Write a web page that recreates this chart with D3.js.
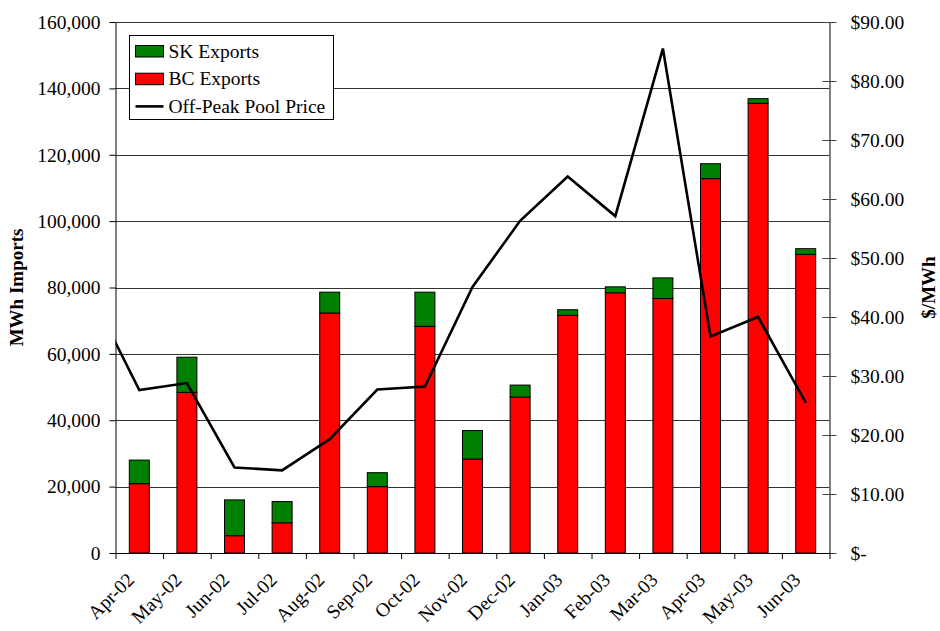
<!DOCTYPE html>
<html>
<head>
<meta charset="utf-8">
<script src="https://cdn.jsdelivr.net/npm/d3@7"></script>
<style>
  body { margin: 0; background: #fff; }
  svg { display: block; }
  text { font-family: "Liberation Serif", "Times New Roman", serif; fill: #000; }
</style>
</head>
<body>
<div id="chart"></div>
<script>
(function () {
  // values
  const months = ["Apr-02", "May-02", "Jun-02", "Jul-02", "Aug-02", "Sep-02", "Oct-02", "Nov-02",
                  "Dec-02", "Jan-03", "Feb-03", "Mar-03", "Apr-03", "May-03", "Jun-03"];
  const bcExports = [20900, 48400, 5200, 9100, 72300, 20000, 68300, 28300,
                     47000, 71600, 78400, 76700, 112800, 135500, 90000];
  const skExports = [7100, 10600, 10800, 6400, 6300, 4200, 10300, 8600,
                     3600, 1700, 1800, 6200, 4500, 1400, 1700];
  const poolPrice = [27.6, 28.8, 14.5, 14.0, 19.3, 27.7, 28.2, 45.1,
                     56.3, 63.8, 57.1, 85.5, 36.7, 40.0, 25.5];
  // the line enters from the left edge, so there is one month before Apr-02 (clipped)
  const leadPrice = 43.7;
  const leftTicks = [0, 20000, 40000, 60000, 80000, 100000, 120000, 140000, 160000];
  const rightTicks = [0, 10, 20, 30, 40, 50, 60, 70, 80, 90];

  const W = 940, H = 631;
  const plot = {left: 115.5, right: 829.5, top: 22, bottom: 553};
  const fontSize = 19.5;

  const svg = d3.select("#chart").append("svg")
    .attr("width", W)
    .attr("height", H);

  const x = d3.scaleBand()
    .domain(months)
    .range([plot.left, plot.right])
    .padding(0);

  // boundaries between months, for the tick marks
  const xi = d3.scaleLinear()
    .domain([0, months.length])
    .range([plot.left, plot.right]);

  const y = d3.scaleLinear()
    .domain([0, 160000])
    .range([plot.bottom, plot.top]);

  const y2 = d3.scaleLinear()
    .domain([0, 90])
    .range([plot.bottom, plot.top]);

  const cx = function (i) { return x(months[i]) + x.bandwidth() / 2; };

  // gridlines
  svg.append("g")
    .attr("class", "grid")
    .selectAll("line")
    .data(leftTicks.slice(1))
    .join("line")
    .attr("x1", plot.left)
    .attr("x2", plot.right)
    .attr("y1", d => Math.round(y(d)) + 0.5)
    .attr("y2", d => Math.round(y(d)) + 0.5)
    .attr("stroke", "#333")
    .attr("stroke-width", 1);

  // stacked bars: BC on the bottom, SK on top
  const barW = x.bandwidth() * 0.42;
  const bars = svg.append("g").attr("class", "bars");
  bars.selectAll("rect.bc")
    .data(bcExports)
    .join("rect")
    .attr("class", "bc")
    .attr("x", (d, i) => cx(i) - barW / 2)
    .attr("y", d => y(d))
    .attr("width", barW)
    .attr("height", d => y(0) - y(d))
    .attr("fill", "#ff0000")
    .attr("stroke", "#000")
    .attr("stroke-width", 1);

  bars.selectAll("rect.sk")
    .data(skExports)
    .join("rect")
    .attr("class", "sk")
    .attr("x", (d, i) => cx(i) - barW / 2)
    .attr("y", (d, i) => y(bcExports[i] + d))
    .attr("width", barW)
    .attr("height", (d, i) => y(bcExports[i]) - y(bcExports[i] + d))
    .attr("fill", "#008000")
    .attr("stroke", "#000")
    .attr("stroke-width", 1);

  // left axis
  const leftAxis = svg.append("g")
    .attr("transform", "translate(" + plot.left + ",0)")
    .call(d3.axisLeft(y)
      .tickValues(leftTicks)
      .tickFormat(d3.format(","))
      .tickSizeInner(6)
      .tickSizeOuter(0)
      .tickPadding(9));
  leftAxis.select(".domain").attr("stroke", "#000");
  leftAxis.selectAll("text")
    .attr("font-size", fontSize)
    .attr("font-family", "Liberation Serif");

  // right axis, ticks cross the line
  const rightAxis = svg.append("g")
    .attr("transform", "translate(" + plot.right + ",0)")
    .call(d3.axisRight(y2)
      .tickValues(rightTicks)
      .tickFormat(d => d === 0 ? "$-" : d3.format("$.2f")(d))
      .tickSizeInner(7)
      .tickSizeOuter(0)
      .tickPadding(14));
  rightAxis.select(".domain")
    .attr("stroke", "#555")
    .attr("stroke-width", 1.5);
  rightAxis.selectAll(".tick line")
    .attr("x1", -7)
    .attr("stroke", "#444");
  rightAxis.selectAll("text")
    .attr("font-size", fontSize)
    .attr("font-family", "Liberation Serif");

  // bottom axis: tick marks between months, labels set separately
  const bottomAxis = svg.append("g")
    .attr("transform", "translate(0," + plot.bottom + ")")
    .call(d3.axisBottom(xi)
      .tickValues(d3.range(months.length + 1))
      .tickFormat("")
      .tickSizeInner(6)
      .tickSizeOuter(0));
  bottomAxis.select(".domain").attr("stroke", "#000");

  svg.append("g")
    .attr("class", "xlabels")
    .selectAll("text")
    .data(months)
    .join("text")
    .attr("transform", (d, i) => "translate(" + (cx(i) - 4) + "," + (plot.bottom + 28) + ") rotate(-45)")
    .attr("text-anchor", "end")
    .attr("font-size", fontSize)
    .text(d => d);

  // price line, clipped to the plot area
  svg.append("clipPath")
    .attr("id", "plotclip")
    .append("rect")
    .attr("x", plot.left)
    .attr("y", 0)
    .attr("width", plot.right - plot.left)
    .attr("height", plot.bottom);

  const linePts = [{i: -1, v: leadPrice}].concat(poolPrice.map((v, i) => ({i: i, v: v})));
  const line = d3.line()
    .x(d => cx(0) + d.i * x.step())
    .y(d => y2(d.v));

  svg.append("path")
    .attr("clip-path", "url(#plotclip)")
    .attr("d", line(linePts))
    .attr("fill", "none")
    .attr("stroke", "#000")
    .attr("stroke-width", 2.6)
    .attr("stroke-linejoin", "miter");

  // axis titles
  svg.append("text")
    .attr("transform", "translate(23," + (plot.top + plot.bottom) / 2 + ") rotate(-90)")
    .attr("text-anchor", "middle")
    .attr("font-size", 19)
    .attr("font-weight", "bold")
    .text("MWh Imports");

  svg.append("text")
    .attr("transform", "translate(935," + (plot.top + plot.bottom) / 2 + ") rotate(-90)")
    .attr("text-anchor", "middle")
    .attr("font-size", 19)
    .attr("font-weight", "bold")
    .text("$/MWh");

  // legend
  const legendItems = [
    {label: "SK Exports", color: "#008000", type: "rect"},
    {label: "BC Exports", color: "#ff0000", type: "rect"},
    {label: "Off-Peak Pool Price", color: "#000", type: "line"}
  ];
  const legend = svg.append("g").attr("transform", "translate(129.5,35.5)");
  legend.append("rect")
    .attr("width", 204)
    .attr("height", 84)
    .attr("fill", "#fff")
    .attr("stroke", "#000")
    .attr("stroke-width", 1);

  const rowH = 27.7;
  const items = legend.selectAll("g.item")
    .data(legendItems)
    .join("g")
    .attr("class", "item")
    .attr("transform", (d, i) => "translate(0," + (i * rowH) + ")");

  items.filter(d => d.type === "rect")
    .append("rect")
    .attr("x", 6)
    .attr("y", 10)
    .attr("width", 28)
    .attr("height", 11.5)
    .attr("fill", d => d.color)
    .attr("stroke", "#000")
    .attr("stroke-width", 1);

  items.filter(d => d.type === "line")
    .append("line")
    .attr("x1", 6)
    .attr("x2", 34)
    .attr("y1", 15.5)
    .attr("y2", 15.5)
    .attr("stroke", d => d.color)
    .attr("stroke-width", 2.6);

  items.append("text")
    .attr("x", 39)
    .attr("y", 22)
    .attr("font-size", fontSize)
    .text(d => d.label);
})();
</script>
</body>
</html>
